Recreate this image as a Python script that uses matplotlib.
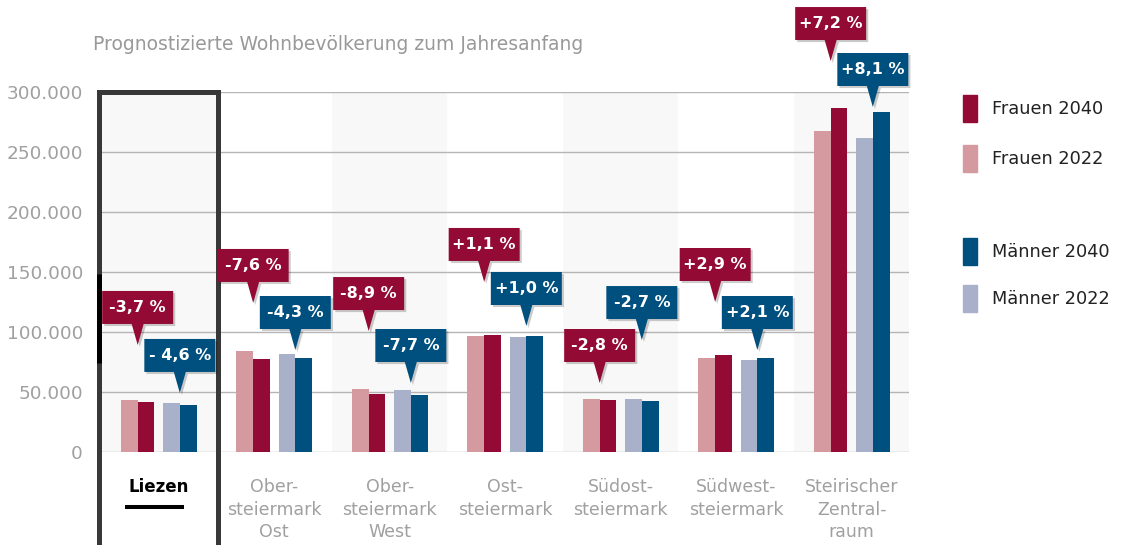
import matplotlib
matplotlib.use('Agg')
import matplotlib.pyplot as plt
import matplotlib.transforms as mtransforms
import matplotlib.patheffects as pe
from matplotlib.patches import Polygon, Rectangle
from matplotlib.ticker import FuncFormatter
import numpy as np

# Daten (Wohnbevoelkerung)
regionen = ['Liezen', 'Ober-\nsteiermark\nOst', 'Ober-\nsteiermark\nWest', 'Ost-\nsteiermark',
            'Südost-\nsteiermark', 'Südwest-\nsteiermark', 'Steirischer\nZentral-\nraum']
frauen_2022 = [43300, 84200, 52500, 96700, 44200, 78600, 267500]
frauen_2040 = [41700, 77800, 48300, 97800, 43000, 80900, 286800]
maenner_2022 = [40800, 81700, 51700, 95800, 44100, 76700, 262000]
maenner_2040 = [38900, 78200, 47500, 96800, 42900, 78300, 283200]
diff_frauen = ['-3,7 %', '-7,6 %', '-8,9 %', '+1,1 %', '-2,8 %', '+2,9 %', '+7,2 %']
diff_maenner = ['- 4,6 %', '-4,3 %', '-7,7 %', '+1,0 %', '-2,7 %', '+2,1 %', '+8,1 %']
yticks = [0, 50000, 100000, 150000, 200000, 250000, 300000]

# Hoehe der Sprechblasen-Spitzen (Layout)
tip_frauen = [89200, 124200, 100800, 141700, 57500, 125000, 325800]
tip_maenner = [49200, 85000, 57500, 105000, 93300, 85000, 287500]

c_f40 = '#930a34'
c_f22 = '#d59a9f'
c_m40 = '#00507f'
c_m22 = '#a8b0ca'
grau = '#a0a0a0'

W, H = 1122, 545
fig = plt.figure(figsize=(W / 100, H / 100), dpi=100)
ax = fig.add_axes([101 / W, (H - 452) / H, 808.5 / W, 360 / H])

x = np.arange(len(regionen))
w = 0.145
pm = 0.1825  # Mitte der Paare
ax.bar(x - pm - w / 2, frauen_2022, w, color=c_f22, zorder=2)
ax.bar(x - pm + w / 2, frauen_2040, w, color=c_f40, zorder=2)
ax.bar(x + pm - w / 2, maenner_2022, w, color=c_m22, zorder=2)
ax.bar(x + pm + w / 2, maenner_2040, w, color=c_m40, zorder=2)

for i in range(0, len(regionen), 2):
    ax.axvspan(i - 0.5, i + 0.5, color='#f8f8f8', zorder=0, lw=0)

ax.set_xlim(-0.5, len(regionen) - 0.5)
ax.set_ylim(0, 300000)
ax.set_yticks(yticks)
ax.yaxis.set_major_formatter(FuncFormatter(lambda v, p: f'{int(v):,}'.replace(',', '.')))
ax.set_axisbelow(True)
ax.yaxis.grid(True, color='#b5b5b5', lw=1)
for s in ax.spines.values():
    s.set_visible(False)
ax.tick_params(axis='y', length=0, pad=13, labelsize=13.3, labelcolor=grau)
ax.tick_params(axis='x', length=0, pad=19, labelsize=12.5, labelcolor=grau)
ax.set_xticks(x)
ax.set_xticklabels(regionen, linespacing=1.3)
lab0 = ax.get_xticklabels()[0]
lab0.set_color('black')
lab0.set_fontweight('bold')
lab0.set_fontsize(12)

# Rahmen um Liezen
ax.add_patch(Rectangle((-0.513, -95000), 1.03, 395400, fill=False, ec='#383838',
                       lw=3.6, clip_on=False, zorder=6))
ax.plot([-0.513, -0.513], [74000, 148300], color='black', lw=3.6, clip_on=False, zorder=7,
        solid_capstyle='butt')
ax.plot([-0.29, 0.22], [-45800, -45800], color='black', lw=2.9, clip_on=False,
        solid_capstyle='butt')


def callout(xp, yp, text, color):
    trans = fig.dpi_scale_trans + mtransforms.ScaledTranslation(xp, yp, ax.transData)
    hw, bh, th, tb = 0.355, 0.33, 0.21, 0.06
    verts = [(-hw, th), (-hw, th + bh), (hw, th + bh), (hw, th), (tb, th), (0, 0), (-tb, th)]
    poly = Polygon(verts, closed=True, transform=trans, fc=color, ec='none',
                   clip_on=False, zorder=8)
    poly.set_path_effects([pe.SimplePatchShadow(offset=(1.5, -1.5), shadow_rgbFace='black',
                                                alpha=0.2), pe.Normal()])
    ax.add_patch(poly)
    ax.text(0, th + bh / 2, text, transform=trans, color='white', fontsize=11.5,
            fontweight='bold', ha='center', va='center', zorder=9, clip_on=False)


for i in range(len(regionen)):
    callout(i - pm, tip_frauen[i], diff_frauen[i], c_f40)
    callout(i + pm, tip_maenner[i], diff_maenner[i], c_m40)

ax.set_xlim(-0.5, len(regionen) - 0.5)
ax.set_ylim(0, 300000)

fig.text(93 / W, 1 - 45 / H, 'Prognostizierte Wohnbevölkerung zum Jahresanfang',
         color='#999999', fontsize=13.5, va='center', ha='left')

# Legende
legende = [('Frauen 2040', c_f40, 108.5), ('Frauen 2022', c_f22, 158.5),
           ('Männer 2040', c_m40, 251.5), ('Männer 2022', c_m22, 298.5)]
for name, col, yc in legende:
    fig.add_artist(Rectangle((963 / W, 1 - (yc + 13.5) / H), 14 / W, 27 / H,
                             transform=fig.transFigure, color=col))
    fig.text(992 / W, 1 - yc / H, name, color='#222222', fontsize=12.8, va='center', ha='left')

fig.savefig('out.png', dpi=100)
